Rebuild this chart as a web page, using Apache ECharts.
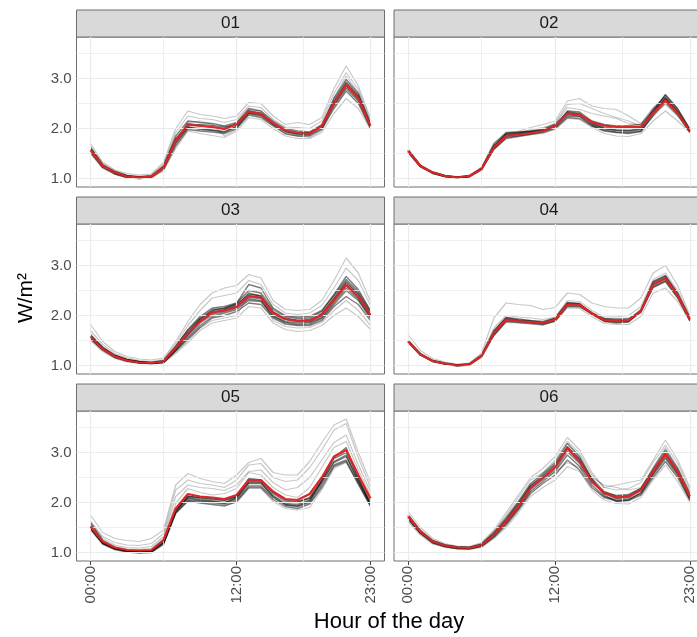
<!DOCTYPE html>
<html><head><meta charset="utf-8">
<script src="https://cdn.jsdelivr.net/npm/echarts@6/dist/echarts.min.js"></script>
<style>html,body{margin:0;padding:0;overflow:hidden;background:#fff}#c{width:712px;height:637px}</style>
</head><body><div id="c"></div><script>
const hours = [0,1,2,3,4,5,6,7,8,9,10,11,12,13,14,15,16,17,18,19,20,21,22,23];
const xTickValues = [0,12,23];
const xTickLabels = ['00:00','12:00','23:00'];
const yTickValues = [1,2,3];
const panelNames = ['01','02','03','04','05','06'];

// Panel 01
const mean01 = [1.57,1.25,1.12,1.04,1.02,1.04,1.22,1.75,2.08,2.05,2.03,1.99,2.08,2.34,2.29,2.11,1.96,1.91,1.90,2.05,2.51,2.87,2.61,2.05];
const dense01 = [
 [1.62,1.28,1.14,1.06,1.03,1.05,1.25,1.85,2.15,2.12,2.10,2.05,2.12,2.40,2.35,2.15,2.00,1.95,1.93,2.08,2.60,2.98,2.70,2.10],
 [1.55,1.23,1.10,1.03,1.01,1.03,1.20,1.70,2.02,2.00,1.97,1.94,2.03,2.30,2.25,2.07,1.93,1.88,1.87,2.00,2.45,2.80,2.55,2.02],
 [1.60,1.26,1.12,1.05,1.02,1.04,1.23,1.78,2.10,2.06,2.02,2.00,2.10,2.36,2.31,2.12,1.97,1.92,1.91,2.04,2.52,2.90,2.64,2.06],
 [1.52,1.22,1.09,1.02,1.00,1.02,1.18,1.65,1.98,1.95,1.93,1.90,2.00,2.27,2.22,2.05,1.90,1.85,1.85,1.98,2.40,2.75,2.50,2.00],
 [1.58,1.25,1.13,1.05,1.03,1.05,1.24,1.80,2.05,2.08,2.06,2.03,2.07,2.33,2.30,2.10,1.95,1.90,1.92,2.06,2.55,2.93,2.66,2.08],
 [1.56,1.24,1.11,1.04,1.02,1.04,1.21,1.72,2.03,1.98,1.96,1.92,2.05,2.31,2.27,2.09,1.95,1.90,1.89,2.03,2.48,2.84,2.58,2.04]
];
const light01 = [
 [1.70,1.33,1.17,1.10,1.07,1.09,1.32,2.00,2.35,2.28,2.25,2.20,2.25,2.52,2.50,2.25,2.08,2.12,2.08,2.22,2.80,3.25,2.85,2.20],
 [1.50,1.20,1.08,1.01,0.99,1.01,1.15,1.60,1.95,1.90,1.86,1.82,1.95,2.22,2.18,2.00,1.85,1.80,1.80,1.92,2.30,2.60,2.40,1.98],
 [1.65,1.30,1.15,1.07,1.05,1.07,1.28,1.92,2.25,2.20,2.18,2.12,2.18,2.45,2.42,2.18,2.03,2.02,2.00,2.15,2.70,3.12,2.78,2.15],
 [1.60,1.27,1.13,1.05,1.03,1.05,1.22,1.75,2.12,2.15,2.08,1.85,1.98,2.38,2.35,2.08,1.88,1.85,1.82,1.96,2.62,3.05,2.72,2.12]
];

// Panel 02
const mean02 = [1.55,1.25,1.12,1.05,1.02,1.05,1.19,1.62,1.85,1.88,1.91,1.95,2.05,2.30,2.28,2.13,2.06,2.03,2.03,2.03,2.31,2.56,2.31,1.95];
const dense02 = [
 [1.58,1.27,1.13,1.06,1.03,1.06,1.22,1.70,1.92,1.93,1.95,1.98,2.08,2.33,2.30,2.10,2.00,1.97,1.96,2.00,2.38,2.66,2.38,1.98],
 [1.52,1.23,1.10,1.04,1.01,1.03,1.17,1.58,1.80,1.84,1.88,1.92,2.00,2.22,2.20,2.05,1.97,1.93,1.92,1.95,2.25,2.52,2.27,1.92],
 [1.55,1.25,1.12,1.05,1.02,1.05,1.20,1.65,1.88,1.90,1.92,1.95,2.05,2.28,2.25,2.08,2.00,1.96,1.95,1.98,2.32,2.62,2.33,1.95],
 [1.56,1.26,1.11,1.04,1.02,1.04,1.18,1.60,1.83,1.86,1.90,1.94,2.03,2.35,2.33,2.15,2.08,2.05,2.06,2.08,2.35,2.58,2.30,1.94],
 [1.53,1.24,1.11,1.04,1.01,1.04,1.19,1.66,1.90,1.92,1.94,1.96,2.02,2.25,2.24,2.06,1.95,1.92,1.90,1.94,2.28,2.60,2.34,1.96],
 [1.57,1.26,1.13,1.06,1.03,1.05,1.21,1.63,1.86,1.89,1.93,1.97,2.06,2.31,2.29,2.12,2.03,2.00,2.00,2.02,2.34,2.68,2.40,1.99]
];
const light02 = [
 [1.55,1.25,1.12,1.05,1.02,1.05,1.20,1.62,1.90,1.95,2.02,2.08,2.15,2.55,2.60,2.45,2.40,2.38,2.25,2.10,2.40,2.55,2.30,1.95],
 [1.54,1.24,1.11,1.04,1.01,1.04,1.18,1.60,1.85,1.90,1.98,2.02,2.10,2.48,2.50,2.40,2.30,2.22,2.15,2.05,2.30,2.48,2.25,1.93],
 [1.55,1.25,1.12,1.05,1.02,1.05,1.19,1.58,1.82,1.85,1.88,1.90,1.98,2.20,2.18,2.02,1.90,1.85,1.84,1.90,2.15,2.35,2.15,1.92],
 [1.56,1.25,1.12,1.05,1.02,1.05,1.20,1.64,1.88,1.92,1.95,2.00,2.10,2.42,2.38,2.30,2.25,2.20,2.10,2.08,2.42,2.62,2.35,1.97]
];

// Panel 03
const mean03 = [1.58,1.33,1.18,1.10,1.06,1.05,1.08,1.36,1.65,1.88,2.06,2.10,2.17,2.39,2.36,2.05,1.93,1.89,1.90,2.01,2.31,2.61,2.38,2.01];
const dense03 = [
 [1.60,1.36,1.20,1.12,1.08,1.06,1.09,1.38,1.72,1.98,2.15,2.18,2.25,2.50,2.45,2.12,1.98,1.94,1.95,2.08,2.40,2.72,2.48,2.08],
 [1.55,1.32,1.17,1.10,1.06,1.04,1.06,1.30,1.56,1.80,1.98,2.05,2.12,2.30,2.28,1.98,1.86,1.82,1.83,1.94,2.22,2.50,2.30,1.95],
 [1.58,1.34,1.19,1.11,1.07,1.05,1.08,1.35,1.64,1.92,2.10,2.15,2.22,2.42,2.40,2.06,1.93,1.90,1.92,2.04,2.33,2.65,2.42,2.03],
 [1.56,1.33,1.18,1.10,1.06,1.05,1.07,1.32,1.60,1.85,2.02,2.08,2.15,2.33,2.30,2.00,1.88,1.85,1.86,1.96,2.26,2.55,2.33,1.97],
 [1.62,1.37,1.21,1.12,1.08,1.06,1.10,1.39,1.70,1.95,2.12,2.14,2.24,2.62,2.55,2.15,2.00,1.97,1.98,2.10,2.42,2.78,2.52,2.10],
 [1.54,1.31,1.16,1.09,1.05,1.04,1.06,1.29,1.53,1.76,1.95,2.00,2.08,2.25,2.22,1.95,1.83,1.80,1.80,1.90,2.18,2.38,2.22,1.90],
 [1.59,1.35,1.19,1.11,1.07,1.05,1.08,1.36,1.66,1.93,2.08,2.10,2.18,2.36,2.34,2.04,1.92,1.88,1.88,2.00,2.30,2.60,2.36,2.00],
 [1.57,1.34,1.18,1.10,1.06,1.05,1.07,1.34,1.62,1.88,2.05,2.12,2.20,2.45,2.38,2.08,1.95,1.90,1.90,2.02,2.35,2.68,2.44,2.05]
];
const light03 = [
 [1.82,1.48,1.28,1.18,1.13,1.11,1.15,1.48,1.88,2.22,2.45,2.55,2.60,2.82,2.75,2.30,2.12,2.10,2.12,2.30,2.70,3.15,2.85,2.28],
 [1.50,1.28,1.14,1.07,1.04,1.03,1.05,1.24,1.46,1.70,1.85,1.90,1.95,2.18,2.15,1.85,1.72,1.68,1.70,1.80,2.00,2.15,1.98,1.72],
 [1.70,1.42,1.24,1.15,1.10,1.08,1.12,1.44,1.80,2.10,2.35,2.40,2.45,2.70,2.62,2.22,2.05,2.02,2.05,2.20,2.55,2.95,2.70,2.20],
 [1.52,1.30,1.15,1.08,1.05,1.04,1.06,1.27,1.50,1.75,1.90,1.95,2.00,2.40,2.35,1.90,1.78,1.75,1.76,1.86,2.10,2.30,2.10,1.80]
];

// Panel 04
const mean04 = [1.48,1.22,1.09,1.04,1.00,1.02,1.19,1.65,1.92,1.89,1.87,1.85,1.92,2.22,2.21,2.04,1.91,1.89,1.90,2.09,2.62,2.74,2.40,1.92];
const dense04 = [
 [1.49,1.23,1.10,1.04,1.01,1.03,1.20,1.68,1.95,1.91,1.89,1.86,1.94,2.25,2.23,2.06,1.93,1.91,1.92,2.12,2.66,2.78,2.43,1.94],
 [1.47,1.21,1.08,1.03,1.00,1.02,1.18,1.62,1.90,1.88,1.86,1.83,1.90,2.20,2.19,2.02,1.89,1.87,1.88,2.06,2.58,2.70,2.37,1.90],
 [1.48,1.22,1.09,1.04,1.00,1.02,1.19,1.66,1.93,1.90,1.88,1.85,1.93,2.23,2.22,2.05,1.92,1.88,1.89,2.08,2.63,2.75,2.41,1.93],
 [1.50,1.24,1.10,1.05,1.01,1.03,1.21,1.70,1.96,1.93,1.90,1.88,1.95,2.26,2.24,2.03,1.88,1.85,1.87,2.10,2.68,2.80,2.45,1.95],
 [1.46,1.21,1.08,1.03,0.99,1.01,1.17,1.60,1.88,1.86,1.84,1.82,1.89,2.18,2.17,2.04,1.94,1.93,1.94,2.08,2.56,2.68,2.35,1.89]
];
const light04 = [
 [1.62,1.30,1.14,1.07,1.03,1.05,1.25,1.95,2.25,2.22,2.20,2.12,2.16,2.45,2.42,2.25,2.18,2.15,2.15,2.35,2.85,3.00,2.60,2.00],
 [1.47,1.21,1.08,1.03,1.00,1.02,1.18,1.60,1.86,1.85,1.83,1.80,1.88,2.15,2.14,1.98,1.84,1.82,1.82,1.98,2.45,2.55,2.28,1.88],
 [1.52,1.25,1.11,1.05,1.02,1.04,1.22,1.75,2.00,1.97,1.95,1.92,1.97,2.30,2.28,2.10,1.97,1.97,2.00,2.18,2.72,2.85,2.50,1.97]
];

// Panel 05
const mean05 = [1.52,1.22,1.10,1.05,1.04,1.05,1.25,1.88,2.17,2.12,2.10,2.07,2.15,2.45,2.45,2.22,2.07,2.05,2.17,2.50,2.92,3.05,2.55,2.08];
const dense05 = [
 [1.48,1.18,1.07,1.02,1.00,1.01,1.18,1.80,2.05,2.02,2.00,1.97,2.05,2.33,2.33,2.10,1.95,1.92,2.00,2.35,2.75,2.85,2.40,1.95],
 [1.50,1.20,1.08,1.03,1.01,1.02,1.20,1.83,2.10,2.06,2.03,2.00,2.08,2.38,2.38,2.14,1.98,1.96,2.05,2.40,2.80,2.92,2.45,1.98],
 [1.46,1.17,1.06,1.01,0.99,1.00,1.16,1.78,2.03,1.99,1.96,1.93,2.02,2.30,2.30,2.06,1.92,1.88,1.97,2.30,2.72,2.82,2.36,1.92],
 [1.52,1.21,1.09,1.04,1.02,1.03,1.22,1.86,2.13,2.09,2.06,2.04,2.12,2.42,2.42,2.18,2.02,2.00,2.10,2.46,2.88,3.00,2.50,2.02],
 [1.60,1.24,1.10,1.05,1.03,1.04,1.23,1.85,2.08,2.04,2.02,1.99,2.10,2.40,2.40,2.12,1.96,1.93,2.03,2.44,2.90,3.10,2.48,1.96],
 [1.49,1.19,1.08,1.03,1.01,1.02,1.19,1.82,2.12,2.10,2.08,2.05,2.12,2.48,2.45,2.20,2.05,2.02,2.08,2.42,2.82,2.95,2.42,1.97]
];
const light05 = [
 [1.75,1.40,1.28,1.24,1.22,1.28,1.45,2.35,2.58,2.48,2.42,2.38,2.55,2.80,2.88,2.60,2.55,2.55,2.82,3.20,3.55,3.67,3.00,2.40],
 [1.62,1.32,1.20,1.15,1.14,1.18,1.38,2.25,2.45,2.38,2.35,2.30,2.45,2.75,2.78,2.50,2.42,2.45,2.70,3.05,3.45,3.58,2.90,2.30],
 [1.58,1.28,1.15,1.10,1.09,1.12,1.32,2.12,2.35,2.30,2.28,2.24,2.35,2.62,2.65,2.40,2.25,2.30,2.50,2.85,3.20,3.35,2.75,2.22],
 [1.55,1.25,1.12,1.07,1.06,1.08,1.28,1.98,2.28,2.20,2.15,2.18,2.28,2.60,2.55,2.30,2.15,2.10,2.30,2.70,3.10,3.22,2.65,2.15],
 [1.50,1.20,1.08,1.04,1.03,1.04,1.20,1.80,2.02,2.00,1.98,1.95,2.00,2.28,2.28,2.02,1.88,1.85,1.90,2.25,2.68,2.80,2.38,1.92]
];

// Panel 06
const mean06 = [1.72,1.42,1.22,1.14,1.10,1.09,1.15,1.35,1.62,1.92,2.29,2.49,2.70,3.08,2.82,2.42,2.19,2.10,2.12,2.25,2.62,2.97,2.62,2.12];
const dense06 = [
 [1.75,1.44,1.24,1.15,1.11,1.10,1.17,1.40,1.70,2.02,2.38,2.58,2.80,3.18,2.92,2.48,2.22,2.12,2.14,2.28,2.68,3.05,2.68,2.18],
 [1.68,1.39,1.20,1.12,1.08,1.08,1.13,1.32,1.58,1.88,2.22,2.42,2.62,2.95,2.72,2.35,2.12,2.05,2.07,2.18,2.55,2.88,2.55,2.06],
 [1.72,1.42,1.22,1.14,1.10,1.09,1.15,1.36,1.64,1.95,2.32,2.52,2.74,3.10,2.86,2.44,2.18,2.08,2.10,2.24,2.60,2.96,2.60,2.10],
 [1.70,1.41,1.21,1.13,1.09,1.08,1.14,1.34,1.60,1.90,2.26,2.46,2.66,3.02,2.78,2.40,2.20,2.14,2.16,2.28,2.64,3.00,2.64,2.14],
 [1.74,1.43,1.23,1.15,1.11,1.10,1.16,1.38,1.66,1.98,2.34,2.55,2.76,3.12,2.88,2.46,2.15,2.02,2.05,2.20,2.58,2.92,2.58,2.08],
 [1.66,1.38,1.19,1.12,1.08,1.07,1.12,1.30,1.55,1.85,2.18,2.38,2.55,2.85,2.65,2.30,2.10,2.03,2.04,2.15,2.50,2.82,2.50,2.04]
];
const light06 = [
 [1.82,1.50,1.28,1.18,1.13,1.12,1.20,1.45,1.80,2.15,2.50,2.68,2.92,3.30,3.05,2.60,2.30,2.35,2.40,2.45,2.85,3.25,2.85,2.30],
 [1.62,1.35,1.17,1.10,1.07,1.06,1.10,1.28,1.50,1.80,2.12,2.30,2.45,2.72,2.62,2.25,2.05,1.98,1.97,2.10,2.45,2.75,2.42,2.00],
 [1.76,1.45,1.25,1.16,1.12,1.11,1.18,1.42,1.75,2.10,2.45,2.60,2.85,3.22,2.98,2.55,2.30,2.25,2.28,2.40,2.80,3.15,2.78,2.25],
 [1.70,1.40,1.21,1.13,1.10,1.09,1.15,1.35,1.65,2.00,2.35,2.50,2.60,2.80,2.70,2.50,2.35,2.30,2.25,2.30,2.70,3.10,2.70,2.20]
];

const panels = [
  {mean: mean01, dense: dense01, light: light01},
  {mean: mean02, dense: dense02, light: light02},
  {mean: mean03, dense: dense03, light: light03},
  {mean: mean04, dense: dense04, light: light04},
  {mean: mean05, dense: dense05, light: light05},
  {mean: mean06, dense: dense06, light: light06}
];

// layout
const colLeft = [76.5, 394];
const plotTop = [37, 224, 411];
const plotW = 310, plotH = 150, stripH = 27;
const FONT = '"Liberation Sans", Arial, Helvetica, sans-serif';
const xMin = -1.15, xMax = 24.15, yMin = 0.83, yMax = 3.83;
const vGrid = [0, 6, 12, 17.5, 23];
const hGrid = [1, 1.5, 2, 2.5, 3, 3.5];

const grids = [], xAxes = [], yAxes = [], series = [], graphics = [];
panels.forEach((p, i) => {
  const col = i % 2, row = Math.floor(i / 2);
  const isLeft = col === 0, isBottom = row === 2;
  const w = col === 0 ? 308 : plotW;
  grids.push({left: colLeft[col], top: plotTop[row], width: w, height: plotH,
    show: true, borderColor: '#6e6e6e', borderWidth: 1, backgroundColor: '#fff', containLabel: false});
  xAxes.push({gridIndex: i, type: 'value', min: xMin, max: xMax,
    axisLine: {show: false}, splitLine: {show: false},
    axisTick: {show: isBottom, customValues: xTickValues, length: 4, lineStyle: {color: '#444'}},
    axisLabel: {show: isBottom, customValues: xTickValues, rotate: 90, margin: 5,
      formatter: v => xTickLabels[xTickValues.indexOf(v)], color: '#4d4d4d', fontSize: 15, fontFamily: FONT}});
  yAxes.push({gridIndex: i, type: 'value', min: yMin, max: yMax,
    axisLine: {show: false}, splitLine: {show: false},
    axisTick: {show: isLeft, customValues: yTickValues, length: 4, lineStyle: {color: '#444'}},
    axisLabel: {show: isLeft, customValues: yTickValues, margin: 5,
      formatter: v => v.toFixed(1), color: '#4d4d4d', fontSize: 15, fontFamily: FONT}});
  // gridlines
  series.push({type: 'line', xAxisIndex: i, yAxisIndex: i, data: [], silent: true, z: 1,
    markLine: {silent: true, symbol: ['none', 'none'], animation: false, label: {show: false},
      lineStyle: {color: '#ebebeb', width: 1, type: 'solid'},
      emphasis: {disabled: true},
      data: vGrid.map(v => ({xAxis: v, lineStyle: {width: xTickValues.includes(v) ? 1.2 : 0.8}}))
        .concat(hGrid.map(v => ({yAxis: v, lineStyle: {width: yTickValues.includes(v) ? 1.2 : 0.8}})))}});
  const mk = (arr, color, width, z) => ({type: 'line', xAxisIndex: i, yAxisIndex: i, z: z,
    data: hours.map((h, k) => [h, arr[k]]), showSymbol: false, symbol: 'none', silent: true,
    lineStyle: {color: color, width: width}, emphasis: {disabled: true}, animation: false});
  p.light.forEach(l => series.push(mk(l, 'rgba(0,0,0,0.22)', 1.2, 2)));
  p.dense.forEach(l => series.push(mk(l, 'rgba(0,0,0,0.5)', 1.4, 3)));
  series.push(mk(p.mean, '#dc2626', 2.2, 5));
  // strip
  graphics.push({type: 'rect', silent: true, shape: {x: colLeft[col], y: plotTop[row] - stripH, width: w, height: stripH},
    style: {fill: '#d9d9d9', stroke: '#6e6e6e', lineWidth: 1}});
  graphics.push({type: 'text', silent: true, x: colLeft[col] + w / 2, y: plotTop[row] - stripH / 2,
    style: {text: panelNames[i], fill: '#1a1a1a', font: '17px ' + FONT, align: 'center', verticalAlign: 'middle'}});
});
graphics.push({type: 'text', silent: true, x: 26, y: 298, rotation: Math.PI / 2,
  style: {text: 'W/m²', fill: '#000', font: '21px ' + FONT, align: 'center', verticalAlign: 'middle'}});
graphics.push({type: 'text', silent: true, x: 389, y: 622,
  style: {text: 'Hour of the day', fill: '#000', font: '22px ' + FONT, align: 'center', verticalAlign: 'middle'}});

const chart = echarts.init(document.getElementById('c'), null, {renderer: 'canvas'});
chart.setOption({animation: false, grid: grids, xAxis: xAxes, yAxis: yAxes, series: series, graphic: graphics});
</script></body></html>
